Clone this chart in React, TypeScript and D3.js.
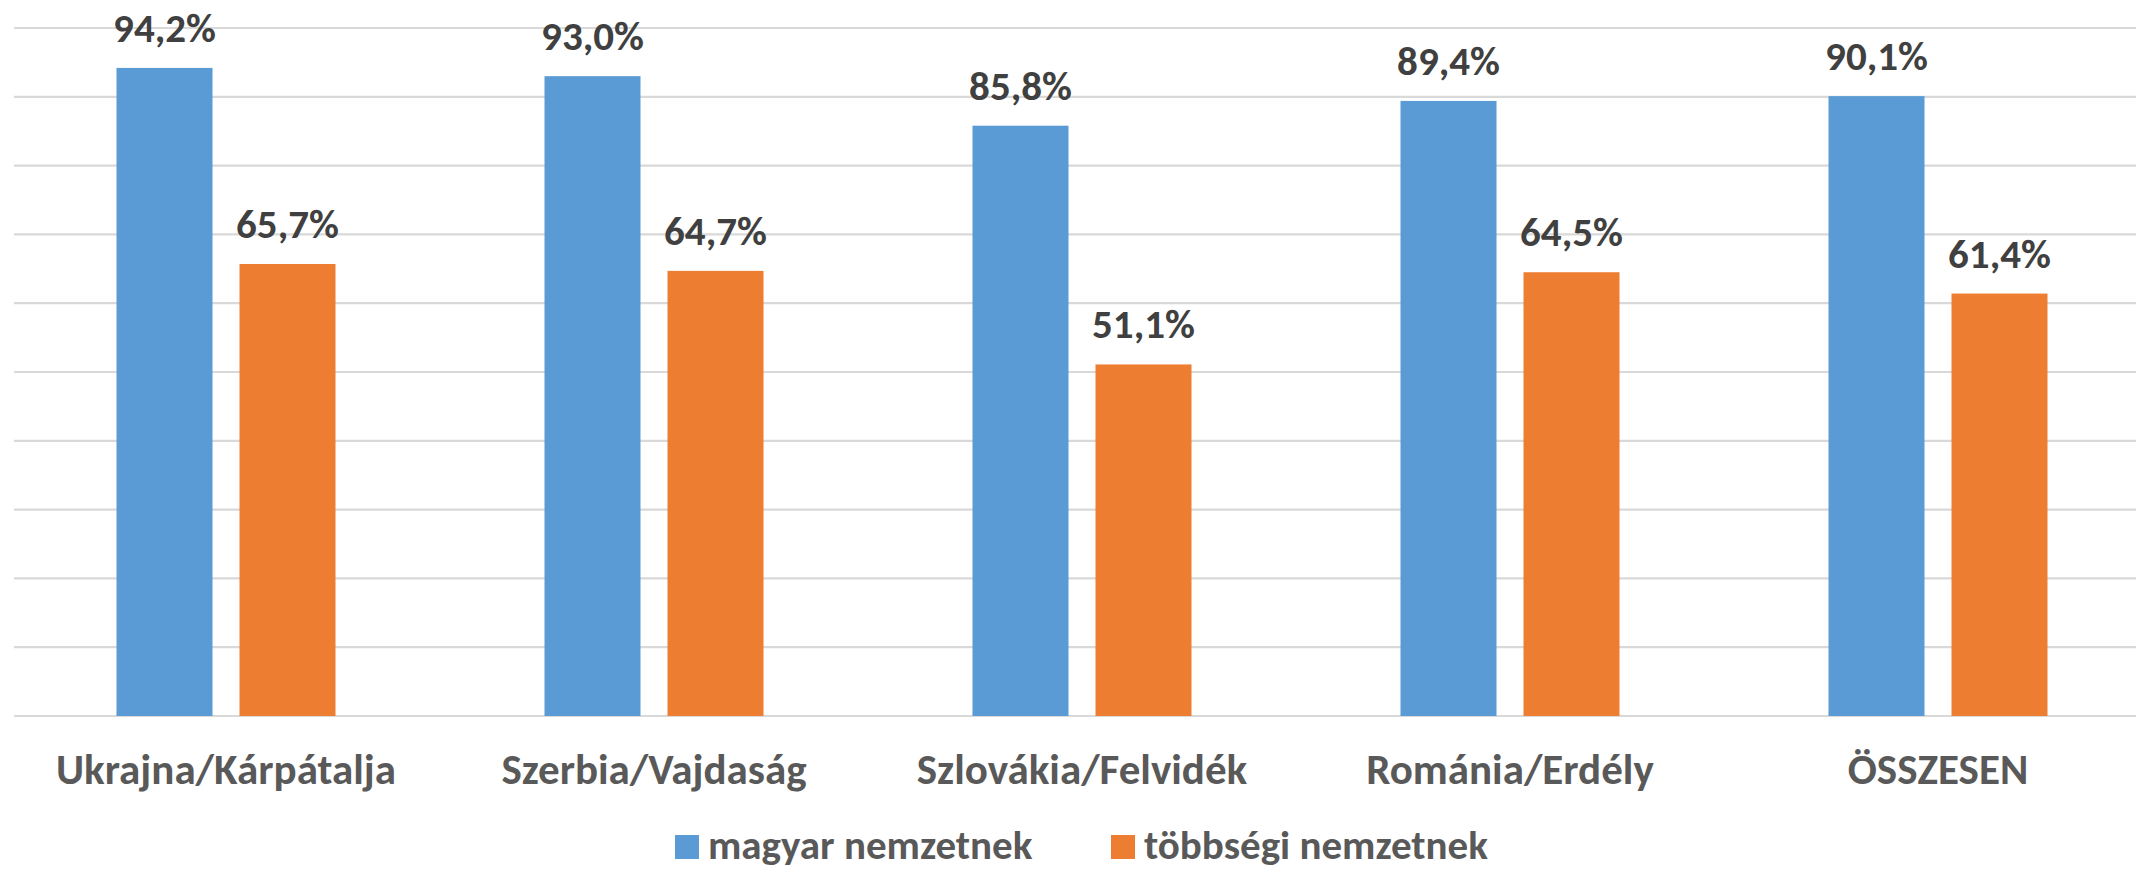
import React, { useRef, useEffect } from "react";
import * as d3 from "d3";

const categories = [
  "Ukrajna/Kárpátalja",
  "Szerbia/Vajdaság",
  "Szlovákia/Felvidék",
  "Románia/Erdély",
  "ÖSSZESEN",
];
const seriesNames = ["magyar nemzetnek", "többségi nemzetnek"];
const magyarValues = [94.2, 93.0, 85.8, 89.4, 90.1];
const tobbsegiValues = [65.7, 64.7, 51.1, 64.5, 61.4];
const gridTicks = [0, 10, 20, 30, 40, 50, 60, 70, 80, 90, 100];

const colors = ["#5B9BD5", "#ED7D31"];
const font = "Carlito, Lato, 'Open Sans', sans-serif";

const App: React.FC = () => {
  const d3Container = useRef<HTMLDivElement>(null);

  useEffect(() => {
    document.body.style.margin = "0";
    drawChart();
  }, []);

  const drawChart = () => {
    const width = 2136;
    const height = 871;
    const plotTop = 28;
    const plotBottom = 716;

    d3.select(d3Container.current).selectChildren().remove();

    const svg = d3
      .select(d3Container.current)
      .append("svg")
      .attr("width", width)
      .attr("height", height)
      .style("display", "block")
      .style("background", "#fff");

    const x = d3.scaleBand().domain(categories).range([12, 2152]);
    const x1 = d3
      .scaleBand()
      .domain(seriesNames)
      .range([0, 219])
      .paddingInner(0.2195);
    const y = d3.scaleLinear().domain([0, 100]).range([plotBottom, plotTop]);

    // gridlines
    svg
      .append("g")
      .selectAll("line")
      .data(gridTicks)
      .join("line")
      .attr("x1", 14)
      .attr("x2", width)
      .attr("y1", (d) => y(d))
      .attr("y2", (d) => y(d))
      .attr("stroke", "#D9D9D9")
      .attr("stroke-width", 2.2);

    const rows = categories.map((c, i) => ({
      cat: c,
      vals: [magyarValues[i], tobbsegiValues[i]],
    }));

    const groups = svg
      .append("g")
      .selectAll("g")
      .data(rows)
      .join("g")
      .attr(
        "transform",
        (d) => `translate(${(x(d.cat) as number) + x.bandwidth() / 2 - 109.5},0)`
      );

    groups
      .selectAll("rect")
      .data((d) => d.vals.map((v, j) => ({ v, s: seriesNames[j], j })))
      .join("rect")
      .attr("x", (d) => x1(d.s) as number)
      .attr("width", x1.bandwidth())
      .attr("y", (d) => y(d.v))
      .attr("height", (d) => y(0) - y(d.v))
      .attr("fill", (d) => colors[d.j]);

    groups
      .selectAll("text")
      .data((d) => d.vals.map((v, j) => ({ v, s: seriesNames[j] })))
      .join("text")
      .attr("x", (d) => (x1(d.s) as number) + x1.bandwidth() / 2)
      .attr("y", (d) => y(d.v) - 26)
      .attr("text-anchor", "middle")
      .attr("font-family", font)
      .attr("font-weight", "bold")
      .attr("font-size", 41)
      .attr("fill", "#404040")
      .text((d) => d.v.toFixed(1).replace(".", ",") + "%");

    // category axis labels
    svg
      .append("g")
      .selectAll("text")
      .data(categories)
      .join("text")
      .attr("x", (d) => (x(d) as number) + x.bandwidth() / 2)
      .attr("y", 784)
      .attr("text-anchor", "middle")
      .attr("font-family", font)
      .attr("font-weight", "bold")
      .attr("font-size", 43)
      .attr("fill", "#595959")
      .text((d) => d);

    // legend
    const legendX = [675, 1111];
    const legend = svg
      .append("g")
      .selectAll("g")
      .data(seriesNames)
      .join("g")
      .attr("transform", (d, i) => `translate(${legendX[i]},0)`);

    legend
      .append("rect")
      .attr("x", 0)
      .attr("y", 835)
      .attr("width", 24)
      .attr("height", 24)
      .attr("fill", (d, i) => colors[i]);

    legend
      .append("text")
      .attr("x", 33)
      .attr("y", 859)
      .attr("font-family", font)
      .attr("font-weight", "bold")
      .attr("font-size", 41)
      .attr("fill", "#595959")
      .text((d) => d);
  };

  return <div ref={d3Container} />;
};

export default App;
